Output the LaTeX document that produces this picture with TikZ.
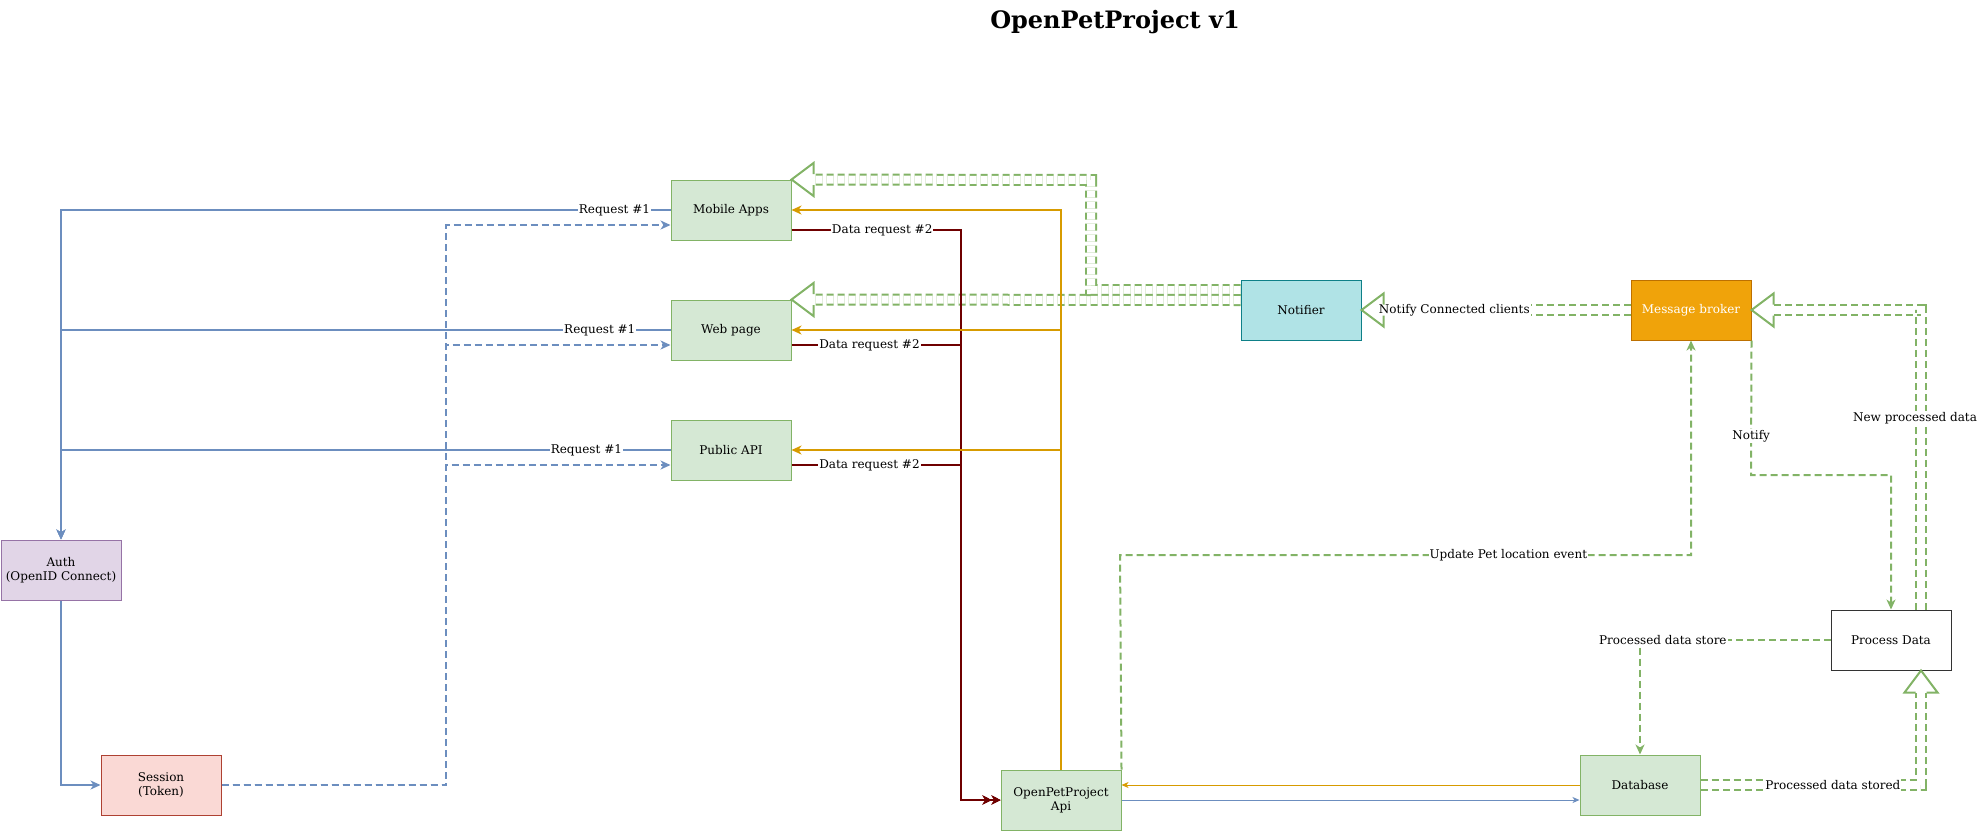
\documentclass[tikz,border=0pt]{standalone}
\usepackage{fontspec}
\setmainfont{DejaVu Serif}
\usepackage{tikz}
\usetikzlibrary{calc}
\usetikzlibrary{positioning}
\usetikzlibrary{arrows.meta}

\definecolor{greenfill}{HTML}{D5E8D4}
\definecolor{greenline}{HTML}{82B366}
\definecolor{purplefill}{HTML}{E1D5E7}
\definecolor{purpleline}{HTML}{9673A6}
\definecolor{redfill}{HTML}{FAD9D5}
\definecolor{redline}{HTML}{AE4132}
\definecolor{tealfill}{HTML}{B0E3E6}
\definecolor{tealline}{HTML}{0E8088}
\definecolor{brokerfill}{HTML}{F0A30A}
\definecolor{brokerline}{HTML}{BD7000}
\definecolor{blueline}{HTML}{6C8EBF}
\definecolor{orangeline}{HTML}{D79B00}
\definecolor{darkred}{HTML}{6F0000}

\tikzset{
  flexhead/.pic={
    \draw[greenline, line width=2pt, line join=miter] (-22,5.5) -- (-22,16.5) -- (0,0) -- (-22,-16.5) -- (-22,-5.5);
  }
}

\begin{document}
\begin{tikzpicture}[x=1pt, y=-1pt,
    box/.style={draw, line width=1pt, minimum width=120pt, minimum height=60pt, inner sep=0pt, align=center, font=\fontsize{12}{14}\selectfont},
    greenbox/.style={box, draw=greenline, fill=greenfill},
    lbl/.style={fill=white, inner sep=1pt, font=\fontsize{12}{14}\selectfont},
    tip/.style={-{Stealth[length=10pt, width=9pt, inset=3pt]}},
    smalltip/.style={-{Stealth[length=7pt, width=6pt, inset=2pt]}},
    req/.style={draw=blueline, line width=2pt, tip},
    token/.style={draw=blueline, line width=2pt, dash pattern=on 7pt off 4pt, tip},
    resp/.style={draw=orangeline, line width=2pt, tip},
    datareq/.style={draw=darkred, line width=2pt, -{Stealth[length=9pt, width=9pt, inset=3pt] Stealth[length=9pt, width=9pt, inset=3pt]}},
    event/.style={draw=greenline, line width=2pt, dash pattern=on 7pt off 4pt},
    flex/.style={draw=greenline, line width=2pt, double=white, double distance=8pt, dash pattern=on 7pt off 4pt, shorten >=22pt}
  ]
  \useasboundingbox (0,0) rectangle (1980,831);

  \node[font=\bfseries\fontsize{24}{28}\selectfont] (title) at (1115,22) {OpenPetProject v1};

  \node[greenbox] (1) at (731,210) {Mobile Apps};
  \node[greenbox] (2) at (731,330) {Web page};
  \node[greenbox] (3) at (731,450) {Public API};
  \node[box, draw=purpleline, fill=purplefill] (4) at (61,570) {Auth\\(OpenID Connect)};
  \node[box, draw=redline, fill=redfill] (5) at (161,785) {Session\\(Token)};
  \node[greenbox] (6) at (1061,800) {OpenPetProject\\Api};
  \node[box, draw=tealline, fill=tealfill] (7) at (1301,310) {Notifier};
  \node[box, draw=brokerline, fill=brokerfill, text=white] (8) at (1691,310) {Message broker};
  \node[box, draw=black!80, fill=white] (9) at (1891,640) {Process Data};
  \node[greenbox] (10) at (1640,785) {Database};

  \draw[flex] ([yshift=20pt]7.west) -| (1091,180) -- (1.north east);
  \pic[rotate=180] at (1.north east) {flexhead};
  \draw[flex] ([yshift=10pt]7.west) -- (2.north east);
  \pic[rotate=180] at (2.north east) {flexhead};
  \draw[flex] (8.west) -- node[lbl, pos=0.655] {Notify Connected clients} (7.east);
  \pic[rotate=180] at (7.east) {flexhead};
  \draw[flex] ([xshift=30pt]9.north) |- node[lbl, pos=0.32, xshift=-6pt] {New processed data} (8.east);
  \pic[rotate=180] at (8.east) {flexhead};
  \draw[flex] (10.east) -| node[lbl, pos=0.3] {Processed data stored} ([xshift=30pt]9.south);
  \pic[rotate=90] at ([xshift=30pt]9.south) {flexhead};

  \draw[event, tip] (8.south east) -- node[lbl, pos=0.71] {Notify} (1751,475) -| (9.north);
  \draw[event, tip] (6.north east) -- (1120,555) -| node[lbl, pos=0.34] {Update Pet location event} (8.south);
  \draw[event, tip] (9.west) -| node[lbl, pos=0.44] {Processed data store} (10.north);

  \foreach \n/\p in {1/0.046, 2/0.058, 3/0.069}
    \draw[req] (\n.west) -| node[lbl, pos=\p] {Request \#1} (4.north);
  \draw[req, line width=1.5pt] (4.south) |- (5.west);
  \foreach \n/\y in {1/225, 2/345, 3/465}
    \draw[token] (5.east) -| (446,\y) -- ([yshift=-15pt]\n.west);

  \foreach \n/\s/\y/\p in {1/20/230/0.535, 2/15/345/0.46, 3/15/465/0.46}
    \draw[datareq] ([yshift=-\s pt]\n.east) -- node[lbl, pos=\p] {Data request \#2} (961,\y) |- (6.west);
  \foreach \n in {1,2,3}
    \draw[resp] (6.north) |- (\n.east);

  \draw[orangeline, line width=1pt, smalltip] (10.west) -- (10.west -| 6.east);
  \draw[blueline, line width=1pt, smalltip] (6.east) -- (6.east -| 10.west);
\end{tikzpicture}
\end{document}
